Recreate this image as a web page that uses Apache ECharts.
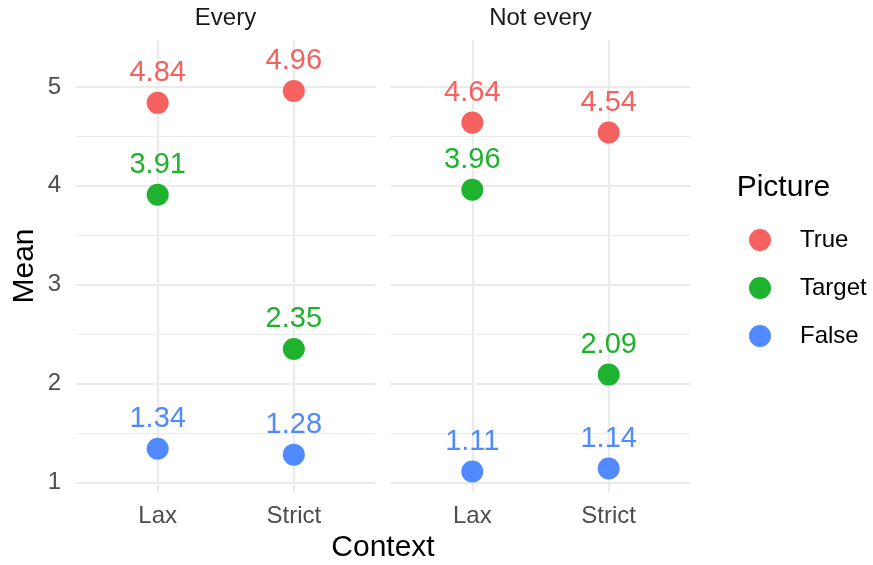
<!DOCTYPE html>
<html><head><meta charset="utf-8">
<script src="https://cdn.jsdelivr.net/npm/echarts@6/dist/echarts.min.js"></script>
<style>html,body{margin:0;padding:0;background:#fff}#chart{width:873px;height:565px}</style>
</head><body><div id="chart"></div>
<script>
const categories = ['Lax', 'Strict'];
const facets = ['Every', 'Not every'];
const pictures = ['True', 'Target', 'False'];
const everyTrue = [4.84, 4.96];
const everyTarget = [3.91, 2.35];
const everyFalse = [1.34, 1.28];
const notEveryTrue = [4.64, 4.54];
const notEveryTarget = [3.96, 2.09];
const notEveryFalse = [1.11, 1.14];
const yTicks = [1, 2, 3, 4, 5];
const yMinorTicks = [1.5, 2.5, 3.5, 4.5];
const pictureColors = ['#F5615E', '#1EB22F', '#518AFF'];

const facetData = [[everyTrue, everyTarget, everyFalse], [notEveryTrue, notEveryTarget, notEveryFalse]];
const FONT = '"Liberation Sans", Arial, Helvetica, sans-serif';
const GRID_COLOR = '#EBEBEB';
const xPositions = categories.map((c, i) => i + 1);
const yMin = 0.902, yMax = 5.476;

const grids = [
  { left: 76, top: 40, width: 299.5, height: 452 },
  { left: 390.5, top: 40, width: 300, height: 452 }
];

const xAxes = facets.map((f, gi) => ({
  type: 'value', gridIndex: gi, min: 0.4, max: 2.6,
  axisLine: { show: false },
  axisTick: { show: false, customValues: xPositions },
  axisLabel: { customValues: xPositions, formatter: v => categories[Math.round(v) - 1] || '',
    fontSize: 24, color: '#4D4D4D', fontFamily: FONT, margin: 12 },
  splitLine: { show: true, lineStyle: { color: GRID_COLOR, width: 2.2 } }
}));

const yAxes = [];
facets.forEach((f, gi) => {
  yAxes.push({
    type: 'value', gridIndex: gi, min: yMin, max: yMax, position: 'left',
    name: gi === 0 ? 'Mean' : '', nameLocation: 'middle', nameGap: 36,
    nameTextStyle: { fontSize: 30, color: '#000', fontFamily: FONT },
    axisLine: { show: false },
    axisTick: { show: false, customValues: yTicks },
    axisLabel: { show: gi === 0, customValues: yTicks, fontSize: 24, color: '#4D4D4D', fontFamily: FONT, margin: 15 },
    splitLine: { show: true, lineStyle: { color: GRID_COLOR, width: 2.2 } }
  });
  yAxes.push({
    type: 'value', gridIndex: gi, min: yMin, max: yMax, position: 'right',
    axisLine: { show: false },
    axisTick: { show: false, customValues: yMinorTicks },
    axisLabel: { show: false, customValues: yMinorTicks },
    splitLine: { show: true, lineStyle: { color: GRID_COLOR, width: 1.1 } }
  });
});

const series = [];
facets.forEach((f, gi) => {
  pictures.forEach((p, pi) => {
    series.push({
      type: 'scatter', name: p, xAxisIndex: gi, yAxisIndex: gi * 2,
      symbol: 'circle', symbolSize: 22,
      itemStyle: { color: pictureColors[pi], opacity: 1 },
      label: { show: true, position: 'top', distance: 4, fontSize: 29, fontFamily: FONT,
        color: pictureColors[pi], formatter: prm => prm.value[1].toFixed(2) },
      emphasis: { disabled: true },
      data: facetData[gi][pi].map((v, ci) => [xPositions[ci], v])
    });
  });
});

const chart = echarts.init(document.getElementById('chart'), null, { renderer: 'canvas' });
chart.setOption({
  animation: false,
  backgroundColor: '#fff',
  color: pictureColors,
  grid: grids,
  xAxis: xAxes,
  yAxis: yAxes,
  legend: {
    data: pictures, orient: 'vertical', left: 749, top: 228, padding: 0,
    itemWidth: 70, itemHeight: 22, itemGap: 24, icon: 'circle',
    textStyle: { fontSize: 24, color: '#000', fontFamily: FONT }
  },
  graphic: [
    { type: 'text', x: 225.5, y: 18, style: { text: facets[0], font: '24px ' + FONT, fill: '#1A1A1A', textAlign: 'center', textVerticalAlign: 'middle' } },
    { type: 'text', x: 540.5, y: 18, style: { text: facets[1], font: '24px ' + FONT, fill: '#1A1A1A', textAlign: 'center', textVerticalAlign: 'middle' } },
    { type: 'text', x: 383, y: 548, style: { text: 'Context', font: '30px ' + FONT, fill: '#000', textAlign: 'center', textVerticalAlign: 'middle' } },
    { type: 'text', x: 736.7, y: 188, style: { text: 'Picture', font: '30px ' + FONT, fill: '#000', textAlign: 'left', textVerticalAlign: 'middle' } }
  ],
  series: series
});
</script>
</body></html>
